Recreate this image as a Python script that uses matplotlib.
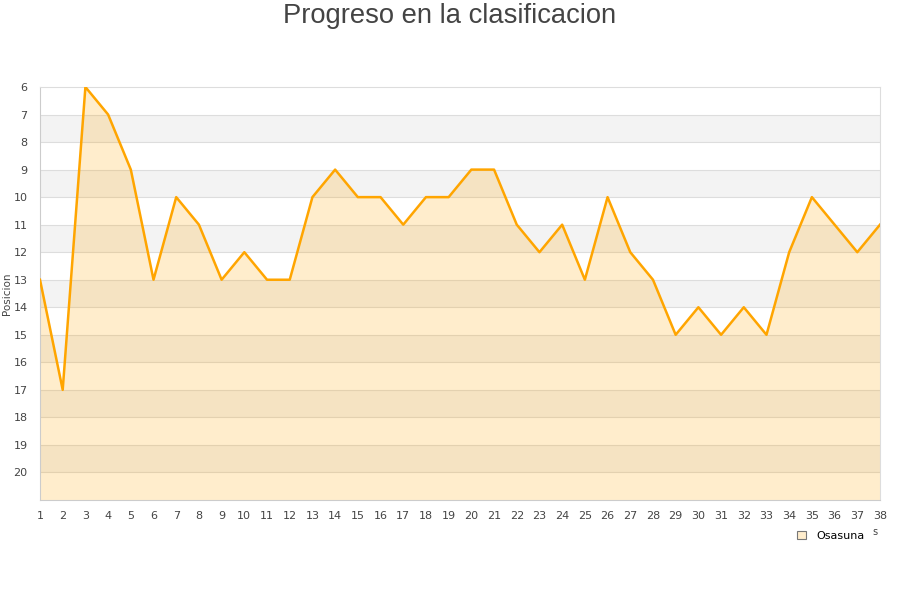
import numpy as np
import matplotlib.pyplot as plt
from matplotlib.patches import Patch

jornadas = list(range(1, 39))
posicion = [13, 17, 6, 7, 9, 13, 10, 11, 13, 12,
            13, 13, 10, 9, 10, 10, 11, 10, 10, 9,
            9, 11, 12, 11, 13, 10, 12, 13, 15, 14,
            15, 14, 15, 12, 10, 11, 12, 11]
equipo = 'Osasuna'
y_ticks = list(range(6, 21))

line_color = '#ffa500'
text_color = '#444444'

fig = plt.figure(figsize=(9, 6), dpi=100)
ax = fig.add_axes([40 / 900, 1 - 500 / 600, 840 / 900, 413 / 600])

# alternate bands
for lo in range(7, 21, 2):
    ax.axhspan(lo, lo + 1, color='#f3f3f3', zorder=0, lw=0)
for t in range(7, 21):
    ax.axhline(t, color='#dddddd', lw=0.8, zorder=1)

ax.fill_between(jornadas, posicion, 21, color=line_color, alpha=0.2, lw=0, zorder=2)
ax.plot(jornadas, posicion, color=line_color, lw=1.8, zorder=3)

ax.set_xlim(1, 38)
ax.set_ylim(21, 6)
ax.set_xticks(jornadas)
ax.set_yticks(y_ticks)
ax.tick_params(axis='both', length=0, labelsize=8, colors=text_color, pad=8)
ax.tick_params(axis='y', pad=9)
for s in ax.spines.values():
    s.set_color('#dddddd')
    s.set_linewidth(0.8)
ax.spines['left'].set_color('#cccccc')
ax.spines['bottom'].set_color('#cccccc')

ax.set_ylabel('Posicion', fontsize=7.5, color=text_color)
ax.yaxis.set_label_coords(-0.0335, 0.5)

fig.text(0.5, 0.995, 'Progreso en la clasificacion', ha='center', va='top',
         fontsize=19.7, color=text_color, family=['Liberation Sans', 'DejaVu Sans'])

handle = Patch(facecolor='#ffedcc', edgecolor='#777777', linewidth=0.8)
fig.legend([handle], [equipo], loc='center', bbox_to_anchor=(0.923, 0.107),
           frameon=False, fontsize=8, handlelength=0.8, handleheight=0.8,
           handletextpad=0.9)
fig.text(0.972, 0.113, 's', fontsize=7, color=text_color, ha='center', va='center')

fig.savefig('out.png', dpi=100, facecolor='white')
